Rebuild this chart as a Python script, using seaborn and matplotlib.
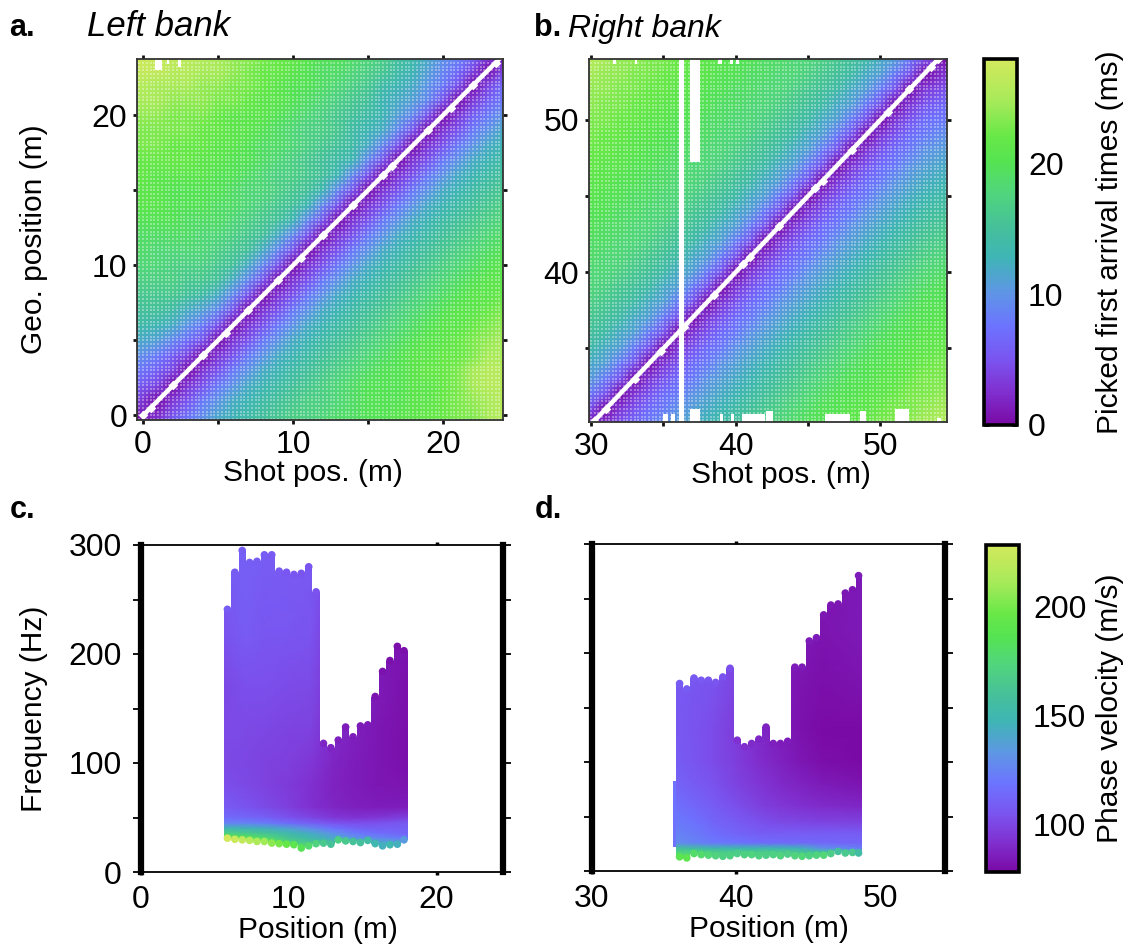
import numpy as np
import pandas as pd
import matplotlib
matplotlib.use('Agg')
import matplotlib.pyplot as plt
import seaborn as sns
from matplotlib.colors import LinearSegmentedColormap, Normalize
from matplotlib.cm import ScalarMappable

# First arrival times (ms), rows run from the top of the panel (y=24) to y=0
left_times = [
    [28,27,27,26,26,25,24,24,23,22,22,21,20,20,19,18,17,15,14,12,10,9,7,4,0],
    [27,27,26,26,25,25,24,23,22,22,21,20,19,19,18,17,16,14,13,11,9,7,4,0,4],
    [26,25,25,25,24,24,23,23,22,21,20,20,19,18,17,16,14,13,12,10,8,5,0,4,7],
    [25,25,24,24,24,23,23,22,21,21,20,19,18,17,16,15,13,12,11,9,5,0,3,6,8],
    [24,24,23,23,23,22,21,21,21,20,19,18,17,16,15,14,13,11,9,5,0,3,6,8,10],
    [23,23,23,23,22,22,21,21,20,19,18,17,17,16,14,13,12,9,5,0,3,5,8,10,12],
    [23,23,22,22,22,21,21,20,19,19,18,17,16,15,14,12,9,5,0,3,5,8,10,12,13],
    [22,22,22,22,21,21,20,20,19,18,17,16,15,14,13,9,5,0,3,5,8,10,12,13,14],
    [22,21,21,21,21,20,20,19,18,17,17,16,15,13,9,5,0,3,5,8,10,12,13,14,15],
    [21,21,20,20,20,20,19,18,18,17,16,15,13,9,5,0,3,5,8,10,12,13,14,15,16],
    [21,21,20,20,20,19,19,18,17,16,15,13,9,5,0,3,5,8,10,12,13,14,15,16,17],
    [20,20,20,19,19,19,18,17,16,15,13,9,5,0,3,5,8,10,12,13,14,15,16,17,18],
    [19,19,19,19,18,18,17,16,15,12,9,5,0,3,5,8,10,12,13,14,15,16,17,18,19],
    [19,18,18,18,18,17,16,15,12,9,5,0,3,5,8,10,12,13,14,15,16,17,18,19,20],
    [18,18,17,17,17,16,15,12,9,5,0,3,5,8,10,12,13,14,15,16,17,18,19,20,21],
    [17,17,17,16,16,15,12,9,5,0,3,5,8,10,12,13,14,15,16,17,18,19,20,21,21],
    [16,16,16,15,14,12,9,5,0,3,5,8,10,12,13,14,15,16,17,18,19,20,21,21,22],
    [15,15,14,12,11,9,5,0,3,5,8,10,12,13,14,15,16,17,18,19,20,21,21,22,23],
    [14,13,12,10,8,5,0,3,5,8,10,12,13,14,15,16,17,18,19,20,21,21,22,23,24],
    [12,11,9,7,5,0,3,5,8,10,12,13,14,15,16,17,18,19,20,21,21,22,23,24,25],
    [10,8,6,4,0,3,5,8,10,12,13,14,15,16,17,18,19,20,21,21,22,22,23,25,25],
    [8,6,4,0,3,5,8,10,12,13,14,15,16,17,18,19,20,20,21,22,22,23,25,26,26],
    [6,4,0,3,5,8,10,12,13,14,15,16,17,18,19,20,20,20,21,21,22,23,25,26,26],
    [4,0,3,5,8,10,12,13,14,15,16,17,17,18,19,20,20,20,21,21,22,23,24,25,26],
    [0,3,6,8,10,12,13,14,15,16,17,17,18,19,19,20,20,21,21,22,22,23,23,25,26],
]
left_shots = [-0.4] + list(range(1, 25))
left_geos = list(range(24, 0, -1)) + [-0.3]

right_times = [
    [26,25,24,24,23,23,22,22,21,21,20,20,19,19,18,18,17,16,15,14,12,11,8,5,0],
    [25,24,24,23,23,22,22,21,21,20,20,19,19,18,18,17,16,15,14,12,11,8,5,0,3],
    [24,24,23,23,22,22,21,21,20,20,19,19,18,18,17,16,15,14,12,11,8,5,0,3,5],
    [24,23,23,22,22,21,21,20,20,19,19,18,18,17,16,15,14,12,11,8,5,0,3,5,7],
    [23,23,22,22,21,21,20,20,19,19,18,18,17,16,15,14,12,11,8,5,0,3,5,7,8],
    [23,22,22,21,21,20,20,19,19,18,18,17,16,15,14,12,11,8,5,0,3,5,7,8,10],
    [22,22,21,21,20,20,19,19,18,18,17,16,15,14,12,11,8,5,0,3,5,7,8,10,11],
    [22,21,21,20,20,19,19,18,18,17,16,15,14,12,11,8,5,0,3,5,7,8,10,11,12],
    [21,21,20,20,19,19,18,18,17,16,15,14,12,11,8,5,0,3,5,7,8,10,11,12,13],
    [21,20,20,19,19,18,18,17,16,15,14,12,11,8,5,0,3,5,7,8,10,11,12,13,14],
    [20,20,19,19,18,18,17,16,15,14,12,11,8,5,0,3,5,7,8,10,11,12,13,14,15],
    [20,19,19,18,18,17,16,15,14,12,11,8,5,0,3,5,7,8,10,11,12,13,14,15,16],
    [19,19,18,18,17,16,15,14,12,11,8,5,0,3,5,7,8,10,11,12,13,14,15,16,17],
    [19,18,18,17,16,15,14,12,11,8,5,0,3,5,7,8,10,11,12,13,14,15,16,17,18],
    [18,18,17,16,15,14,12,11,8,5,0,3,5,7,8,10,11,12,13,14,15,16,17,18,19],
    [18,17,16,15,14,12,11,8,5,0,3,5,7,8,10,11,12,13,14,15,16,17,18,19,20],
    [17,16,15,14,12,11,8,5,0,3,5,7,8,10,11,12,13,14,15,16,17,18,19,20,20],
    [16,15,14,12,11,8,5,0,3,5,7,8,10,11,12,13,14,15,16,17,18,19,20,20,21],
    [15,14,12,11,8,5,0,3,5,7,8,10,11,12,13,14,15,16,17,18,19,20,20,21,21],
    [14,12,11,8,5,0,3,5,7,8,10,11,12,13,14,15,16,17,18,19,20,20,21,21,22],
    [12,11,8,5,0,3,5,7,8,10,11,12,13,14,15,16,17,18,19,20,20,21,21,22,23],
    [11,8,5,0,3,5,7,8,10,11,12,13,14,15,16,17,18,19,20,20,21,21,22,23,23],
    [8,5,0,3,5,7,8,10,11,12,13,14,15,16,17,18,19,20,20,21,21,22,23,23,24],
    [5,0,3,5,7,8,10,11,12,13,14,15,16,17,18,19,20,20,21,21,22,23,23,24,25],
    [0,3,5,7,8,10,11,12,13,14,15,16,17,18,19,20,20,21,21,22,23,23,24,25,26],
]
right_shots = [29.85] + list(range(31, 54)) + [54.6]
right_geos = list(range(54, 30, -1)) + [30]

# Missing picks: left edge, width, lower edge, top edge
left_gap_x = [0.8, 1.6, 2.3]
left_gap_w = [0.45, 0.15, 0.2]
left_gap_lo = [23.0, 23.4, 23.2]
left_gap_hi = [24.0, 24.0, 24.0]
right_gap_x = [36.1, 36.8, 31.5, 33.0, 38.8, 39.6, 40.0,
               35.0, 35.5, 36.8, 38.9, 39.7, 40.4, 42.1, 46.2, 47.6, 48.6, 51.0, 53.9]
right_gap_w = [0.3, 0.7, 0.2, 0.2, 0.25, 0.2, 0.2,
               0.3, 0.3, 0.75, 0.2, 0.2, 1.6, 0.45, 1.4, 0.3, 0.4, 1.0, 0.3]
right_gap_lo = [29.0, 47.2, 53.7, 53.7, 53.7, 53.7, 53.7,
                29.0, 29.0, 29.0, 29.0, 29.0, 29.0, 29.0, 29.0, 29.0, 29.0, 29.0, 29.0]
right_gap_hi = [55.0, 55.0, 55.0, 55.0, 55.0, 55.0, 55.0,
                30.7, 30.7, 31.0, 30.7, 30.7, 30.7, 30.9, 30.7, 30.7, 30.9, 31.0, 30.4]

left_diag = [0.0, 0.5, 2.0, 4.0, 5.5, 7.0, 9.0, 10.5, 12.0, 14.0, 16.0, 16.6, 19.0, 20.5, 22.0, 23.5, 24.0]
right_diag = [30.2, 31.0, 33.0, 34.8, 36.4, 38.5, 40.5, 41.0, 43.0, 45.5, 46.0, 48.0, 50.5, 52.0, 53.5, 54.0]

# Dispersion picks, panel c
c_pos = [5.85, 6.35, 6.85, 7.35, 7.85, 8.35, 8.85, 9.35, 9.85, 10.35, 10.85, 11.35, 11.85,
         12.35, 12.85, 13.35, 13.85, 14.35, 14.85, 15.35, 15.85, 16.35, 16.85, 17.35, 17.8]
c_top = [244, 278, 298, 287, 288, 294, 294, 279, 278, 276, 277, 283, 260,
         121, 117, 124, 136, 127, 137, 138, 164, 187, 197, 210, 206]
c_bottom = [30, 29, 28.5, 28, 27, 27, 25.5, 25, 24.5, 24, 21, 23, 25,
            25.5, 24.5, 28.5, 27.5, 27, 26, 28, 25, 23, 24, 24.5, 28.5]
c_top_vel = [108, 108, 109, 109, 108, 108, 107, 107, 106, 106, 105, 105, 104,
             88, 87, 86, 85, 85, 84, 84, 82, 81, 80, 80, 80]
c_bottom_vel = [228, 226, 222, 218, 214, 210, 205, 200, 195, 190, 185, 178, 172,
                165, 160, 170, 165, 160, 158, 155, 150, 145, 150, 145, 135]

c_grid_pos = [5.5, 7.0, 8.5, 10.0, 11.5, 13.0, 14.5, 16.0, 18.2]
c_grid_freq = [20, 28, 32, 36, 40, 45, 50, 60, 80, 100, 130, 170, 220, 300]
c_grid_vel = [
    [230, 225, 215, 200, 185, 170, 160, 150, 145],
    [220, 210, 190, 170, 160, 150, 145, 140, 130],
    [190, 185, 175, 160, 150, 140, 130, 125, 118],
    [170, 165, 160, 150, 142, 130, 120, 115, 112],
    [150, 148, 145, 138, 128, 118, 112, 110, 110],
    [125, 125, 122, 115, 110, 105, 103, 104, 108],
    [115, 113, 110, 104, 100, 95, 93, 94, 98],
    [108, 105, 101, 97, 92, 88, 86, 85, 85],
    [103, 101, 98, 96, 92, 87, 85, 83, 82],
    [101, 100, 98, 97, 94, 88, 85, 83, 80],
    [101, 101, 100, 99, 98, 90, 86, 83, 80],
    [100, 103, 103, 102, 101, 93, 88, 84, 80],
    [104, 108, 106, 106, 105, 95, 90, 85, 82],
    [110, 110, 109, 108, 107, 100, 92, 86, 84],
]

# Dispersion picks, panel d
d_pos = [36.08, 36.58, 37.08, 37.58, 38.08, 38.58, 39.08, 39.58, 40.08, 40.58, 41.08, 41.58, 42.08,
         42.58, 43.08, 43.58, 44.08, 44.58, 45.08, 45.58, 46.08, 46.58, 47.08, 47.58, 48.08, 48.5]
d_top = [175, 170, 180, 178, 178, 176, 181, 189, 123, 117, 120, 124, 135,
         120, 120, 122, 190, 190, 214, 217, 238, 247, 248, 258, 261, 274]
d_bottom = [12, 11, 15, 14, 13.5, 13, 12.5, 13, 15, 14, 14, 13, 13.5,
            14, 13, 14.5, 13, 12.5, 13, 13.5, 13.5, 15, 17, 15.5, 16, 15.5]
d_top_vel = [108, 108, 107, 107, 106, 105, 104, 103, 92, 91, 90, 88, 87,
             86, 85, 85, 85, 84, 84, 84, 83, 83, 83, 83, 83, 84]
d_bottom_vel = [188, 190, 180, 178, 175, 172, 170, 170, 168, 170, 172, 170, 168,
                170, 172, 168, 172, 175, 170, 172, 175, 168, 158, 165, 165, 155]

d_grid_pos = [35.4, 37.0, 38.5, 40.0, 41.5, 43.0, 44.5, 46.0, 48.9]
d_grid_freq = [8, 14, 18, 21, 26, 35, 45, 60, 80, 100, 130, 170, 220, 300]
d_grid_vel = [
    [190, 185, 180, 180, 180, 180, 175, 175, 170],
    [180, 175, 170, 170, 170, 170, 165, 165, 165],
    [170, 170, 165, 165, 165, 165, 160, 155, 150],
    [160, 155, 150, 150, 150, 148, 145, 130, 122],
    [130, 125, 120, 118, 116, 115, 114, 113, 112],
    [125, 122, 116, 112, 109, 108, 108, 108, 108],
    [122, 118, 112, 108, 104, 101, 100, 99, 98],
    [118, 113, 108, 103, 98, 94, 92, 90, 88],
    [113, 108, 104, 99, 94, 90, 87, 84, 82],
    [110, 106, 102, 97, 91, 87, 83, 80, 78],
    [108, 105, 102, 96, 90, 85, 81, 78, 78],
    [108, 106, 104, 98, 90, 85, 82, 80, 82],
    [108, 107, 105, 100, 92, 86, 84, 82, 84],
    [110, 108, 106, 100, 92, 86, 84, 82, 84],
]
# narrow strip on the left of panel d: position, width, lower and upper frequency, velocity
d_strip = [35.74, 0.18, 22, 83, 118]

W, H = 1134, 950
sns.set_theme(style='white')
plt.rcParams['font.family'] = ['Liberation Sans', 'DejaVu Sans']
plt.rcParams['text.color'] = 'black'
plt.rcParams['axes.labelcolor'] = 'black'
plt.rcParams['xtick.labelcolor'] = 'black'
plt.rcParams['ytick.labelcolor'] = 'black'
LABEL = 21.5
TICK = 23

cmap = LinearSegmentedColormap.from_list('arrival', [
    (0.00, '#7a0aa5'), (0.09, '#8030d0'), (0.18, '#7a55f0'), (0.27, '#6c74ff'),
    (0.36, '#5f95e6'), (0.46, '#3fb5b5'), (0.54, '#45c09a'), (0.64, '#52d67a'),
    (0.72, '#55e352'), (0.79, '#68e848'), (0.89, '#a8ea5a'), (1.00, '#d2e95c')])
time_norm = Normalize(0, 28)
vel_norm = Normalize(78, 228.5)

fig = plt.figure(figsize=(W / 100, H / 100), dpi=100)


def px_axes(left, top, right, bottom):
    return fig.add_axes([left / W, 1 - bottom / H, (right - left) / W, (bottom - top) / H])


def arrival_panel(box, shots, geos, times, xlim, ylim, xticks, xminor, yticks, yminor,
                  gap_x, gap_w, gap_lo, gap_hi, diag):
    ax = px_axes(*box)
    ax.pcolormesh(shots, geos, np.array(times, dtype=float), cmap=cmap, norm=time_norm,
                  shading='gouraud')
    # white specks left between the plotted cells
    gx, gy = np.meshgrid(np.arange(np.floor(xlim[0]), xlim[1], 0.25),
                         np.arange(np.floor(ylim[0]), ylim[1], 0.25))
    sns.scatterplot(x=gx.ravel(), y=gy.ravel(), ax=ax, color='white', alpha=0.35,
                    s=1.4, marker='s', linewidth=0, legend=False)
    ax.bar(gap_x, np.array(gap_hi) - np.array(gap_lo), width=gap_w, bottom=gap_lo,
           align='edge', color='white', linewidth=0)
    sns.lineplot(x=diag, y=diag, ax=ax, color='white', linewidth=3.2, estimator=None)
    sns.scatterplot(x=diag, y=diag, ax=ax, color='white', marker='D', s=24,
                    linewidth=0, legend=False)
    ax.set_xlim(*xlim)
    ax.set_ylim(*ylim)
    ax.set_xticks(xticks)
    ax.set_xticks(xminor, minor=True)
    ax.set_yticks(yticks)
    ax.set_yticks(yminor, minor=True)
    ax.tick_params(which='both', direction='out', top=True, right=True, bottom=True, left=True,
                   length=3, width=2, color='#111111', labelsize=TICK, pad=4)
    for s in ax.spines.values():
        s.set_linewidth(1.3)
        s.set_color('#333333')
        s.set_visible(True)
    ax.grid(False)
    return ax


def dispersion_panel(box, xlim, xticks, hide_tick, pos, top, bottom, top_vel, bottom_vel,
                     grid_pos, grid_freq, grid_vel):
    ax = px_axes(*box)
    mesh = ax.pcolormesh(grid_pos, grid_freq, np.array(grid_vel, dtype=float), cmap=cmap,
                         norm=vel_norm, shading='gouraud')
    # picks are round dots, so the filled body stops a dot radius inside the outer edge
    upper = np.array(top, dtype=float) - 3
    lower = np.array(bottom, dtype=float) + 1
    edges = [pos[0] - 0.25] + pos + [pos[-1] + 0.25]
    outline = ax.fill_between(edges, np.r_[lower[0], lower, lower[-1]], np.r_[upper[0], upper, upper[-1]],
                              step='mid', facecolor='none', linewidth=0)
    mesh.set_clip_path(outline.get_paths()[0], transform=ax.transData)
    edge = pd.DataFrame({'pos': pos + pos, 'freq': np.r_[upper, lower], 'vel': top_vel + bottom_vel})
    sns.scatterplot(data=edge, x='pos', y='freq', hue='vel', palette=cmap, hue_norm=vel_norm,
                    s=30, linewidth=0, legend=False, ax=ax, clip_on=False)
    ax.set_xlim(*xlim)
    ax.set_ylim(0, 300)
    ax.set_xticks(xticks)
    ax.set_yticks([0, 100, 200, 300])
    ax.set_yticks([50, 150, 250], minor=True)
    ax.tick_params(axis='y', which='both', direction='out', left=True, right=True,
                   length=6, width=1.3, color='black', labelsize=TICK, pad=8)
    ax.tick_params(axis='x', direction='out', top=True, bottom=True, length=2.5, width=2.5,
                   color='black', labelsize=TICK, pad=7)
    hidden = ax.xaxis.get_major_ticks()[hide_tick]
    hidden.tick1line.set_visible(False)
    hidden.tick2line.set_visible(False)
    for name, s in ax.spines.items():
        s.set_visible(True)
        s.set_color('black')
        s.set_linewidth(4.5 if name in ('left', 'right') else 1.3)
    ax.set_xlabel('')
    ax.set_ylabel('')
    ax.grid(False)
    return ax


def side_bar(box, norm, ticks, minor, label, label_x, pad):
    cax = px_axes(*box)
    cb = fig.colorbar(ScalarMappable(norm=norm, cmap=cmap), cax=cax)
    cb.set_ticks(ticks)
    cb.ax.set_yticks(minor, minor=True)
    cb.ax.tick_params(which='both', direction='in', left=True, right=True, length=3.5, width=2,
                      color='black', labelsize=TICK, pad=pad)
    cb.outline.set_linewidth(2.6)
    cb.outline.set_edgecolor('black')
    cb.set_label(label, fontsize=LABEL)
    cb.ax.yaxis.set_label_coords((label_x - box[0]) / (box[2] - box[0]), 0.5)


ax_a = arrival_panel((137, 59, 503, 420), left_shots, left_geos, left_times,
                     (-0.4, 24.0), (-0.3, 23.75), [0, 10, 20], [5, 15], [0, 10, 20], [5, 15],
                     left_gap_x, left_gap_w, left_gap_lo, left_gap_hi, left_diag)
ax_a.set_xlabel('Shot pos. (m)', fontsize=LABEL)
ax_a.set_ylabel('Geo. position (m)', fontsize=LABEL)
ax_a.yaxis.set_label_coords((48 - 137) / 366, 0.5)
ax_a.xaxis.set_label_coords(0.48, -0.108)

ax_b = arrival_panel((589, 59, 947, 422), right_shots, right_geos, right_times,
                     (29.85, 54.6), (30.15, 54.0), [30, 40, 50], [35, 45], [40, 50], [35, 45],
                     right_gap_x, right_gap_w, right_gap_lo, right_gap_hi, right_diag)
ax_b.set_xlabel('Shot pos. (m)', fontsize=LABEL)
ax_b.xaxis.set_label_coords(0.535, -0.108)

ax_c = dispersion_panel((141, 545, 503, 872), (0, 24.5), [0, 10, 20], 1,
                        c_pos, c_top, c_bottom, c_top_vel, c_bottom_vel,
                        c_grid_pos, c_grid_freq, c_grid_vel)
ax_c.set_xlabel('Position (m)', fontsize=LABEL)
ax_c.set_ylabel('Frequency (Hz)', fontsize=LABEL)
ax_c.yaxis.set_label_coords((48 - 141) / 362, 0.5)
ax_c.xaxis.set_label_coords(0.49, -0.135)

ax_d = dispersion_panel((592, 544, 945, 871), (30, 54.5), [30, 40, 50], 2,
                        d_pos, d_top, d_bottom, d_top_vel, d_bottom_vel,
                        d_grid_pos, d_grid_freq, d_grid_vel)
ax_d.bar([d_strip[0]], [d_strip[3] - d_strip[2]], width=d_strip[1], bottom=d_strip[2],
         color=cmap(vel_norm(d_strip[4])), linewidth=0)
ax_d.set_yticklabels([])
ax_d.set_xlabel('Position (m)', fontsize=LABEL)
ax_d.xaxis.set_label_coords(0.5, -0.135)

side_bar((984, 59, 1017, 425), time_norm, [0, 10, 20], [5, 15, 25],
         'Picked first arrival times (ms)', 1096, 8)
side_bar((986, 545, 1019, 872), vel_norm, [100, 150, 200], [],
         'Phase velocity (m/s)', 1096, 10)

fig.text(9 / W, 1 - 36 / H, 'a.', fontsize=22, fontweight='bold', color='black')
fig.text(534 / W, 1 - 36 / H, 'b.', fontsize=22, fontweight='bold', color='black')
fig.text(10 / W, 1 - 518 / H, 'c.', fontsize=22, fontweight='bold', color='black')
fig.text(535 / W, 1 - 518 / H, 'd.', fontsize=22, fontweight='bold', color='black')
fig.text(87 / W, 1 - 36 / H, 'Left bank', fontsize=25, style='italic', color='black')
fig.text(568 / W, 1 - 37 / H, 'Right bank', fontsize=23, style='italic', color='black')

fig.savefig('out.png', dpi=100)
